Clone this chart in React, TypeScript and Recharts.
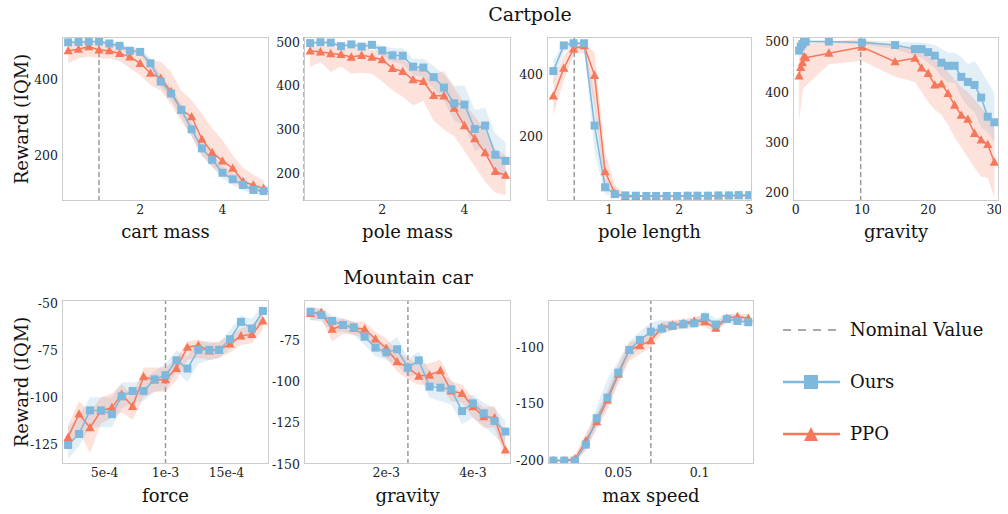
import React from "react";
import { ComposedChart, Line, Area, XAxis, YAxis, ReferenceLine } from "recharts";

const BLUE = "#7eb8dc";
const RED = "#f6775a";
const FONT = "DejaVu Serif";
const YW = 50;
const TOP_PAD = 10;

type Triple = [number, number, number]; // [iqm, low, high]

// Cartpole: cart mass
const cartMassX = [0.25, 0.5, 0.75, 1.0, 1.25, 1.5, 1.75, 2.0, 2.25, 2.5, 2.75, 3.0, 3.25, 3.5, 3.75, 4.0, 4.25, 4.5, 4.75, 5.0];
const cartMassOurs: Triple[] = [
  [497, 493, 501], [498, 495, 501], [499, 496, 501], [499, 496, 501], [494, 489, 499],
  [488, 482, 494], [475, 468, 483], [472, 463, 480], [442, 430, 455], [394, 380, 410],
  [363, 345, 378], [320, 300, 336], [269, 250, 287], [219, 200, 236], [189, 170, 206],
  [155, 140, 172], [138, 122, 153], [123, 108, 138], [110, 100, 122], [107, 97, 115],
];
const cartMassPpo: Triple[] = [
  [475, 442, 495], [479, 455, 497], [486, 460, 498], [477, 455, 497], [475, 455, 495],
  [468, 448, 490], [459, 430, 485], [442, 410, 475], [416, 385, 450], [403, 370, 447],
  [368, 335, 420], [320, 290, 370], [302, 250, 345], [243, 200, 310], [208, 170, 272],
  [186, 150, 240], [167, 135, 200], [132, 115, 168], [123, 108, 150], [114, 100, 135],
];

// Cartpole: pole mass
const poleMassX = [0.25, 0.5, 0.75, 1.0, 1.25, 1.5, 1.75, 2.0, 2.25, 2.5, 2.75, 3.0, 3.25, 3.5, 3.75, 4.0, 4.25, 4.5, 4.75, 5.0];
const poleMassOurs: Triple[] = [
  [498, 494, 502], [500, 496, 503], [499, 495, 503], [491, 486, 497], [495, 490, 500],
  [490, 484, 497], [494, 487, 500], [481, 470, 492], [470, 456, 486], [469, 450, 486],
  [444, 425, 462], [442, 420, 462], [420, 395, 446], [396, 365, 426], [360, 320, 400],
  [357, 310, 400], [301, 250, 345], [309, 260, 350], [242, 200, 290], [228, 185, 270],
];
const poleMassPpo: Triple[] = [
  [480, 443, 490], [478, 455, 490], [474, 432, 490], [472, 445, 487], [466, 428, 485],
  [470, 430, 488], [466, 428, 482], [460, 410, 478], [440, 390, 465], [433, 375, 460],
  [414, 355, 445], [410, 365, 440], [378, 320, 425], [377, 300, 435], [349, 285, 395],
  [309, 250, 360], [279, 215, 330], [247, 180, 300], [204, 155, 255], [195, 150, 240],
];

// Cartpole: pole length
const poleLengthX = [0.2, 0.35, 0.49, 0.64, 0.79, 0.94, 1.08, 1.23, 1.38, 1.53, 1.67, 1.82, 1.97, 2.12, 2.26, 2.41, 2.56, 2.71, 2.85, 3.0];
const poleLengthOurs: Triple[] = [
  [411, 372, 445], [493, 470, 505], [500, 495, 503], [500, 492, 503], [236, 150, 330],
  [38, 15, 70], [16, 9, 24], [12, 8, 16], [11, 8, 14], [10, 8, 13],
  [10, 8, 13], [10, 8, 13], [10, 8, 13], [11, 9, 14], [11, 9, 14],
  [11, 9, 14], [12, 10, 15], [12, 10, 15], [13, 10, 16], [13, 10, 16],
];
const poleLengthPpo: Triple[] = [
  [331, 270, 380], [420, 380, 460], [482, 465, 500], [492, 470, 500], [397, 300, 470],
  [88, 40, 150], [19, 8, 45], [8, 3, 16], [9, 6, 13], [9, 6, 12],
  [9, 6, 12], [9, 6, 12], [9, 6, 12], [10, 7, 13], [10, 7, 13],
  [10, 7, 13], [10, 7, 13], [11, 8, 14], [11, 8, 14], [11, 8, 14],
];

// Cartpole: gravity
const cpGravityX = [0.5, 0.75, 1.0, 1.25, 1.5, 5, 10, 15, 18, 19, 20, 21, 22, 23, 24, 25, 26, 27, 28, 29, 30];
const cpGravityOurs: Triple[] = [
  [482, 470, 495], [490, 480, 498], [495, 490, 500], [499, 496, 501], [500, 497, 501],
  [500, 497, 501], [498, 494, 501], [493, 485, 500], [485, 472, 498], [485, 468, 498],
  [479, 458, 496], [472, 448, 493], [458, 430, 486], [452, 420, 478], [452, 418, 478],
  [430, 390, 470], [420, 372, 455], [414, 360, 462], [389, 330, 442], [351, 320, 420],
  [340, 300, 398],
];
const cpGravityPpo: Triple[] = [
  [432, 340, 480], [449, 370, 485], [458, 400, 490], [470, 410, 495], [468, 412, 495],
  [477, 455, 500], [489, 462, 505], [460, 430, 490], [467, 420, 490], [448, 400, 482],
  [437, 380, 470], [414, 365, 462], [416, 355, 455], [397, 335, 440], [374, 310, 425],
  [354, 290, 410], [346, 270, 400], [318, 250, 385], [305, 232, 370], [296, 230, 355],
  [261, 190, 330],
];

// Mountain car: force (units of 1e-4)
const forceX = [2.0, 2.9, 3.8, 4.7, 5.6, 6.4, 7.3, 8.2, 9.1, 10.0, 10.9, 11.8, 12.7, 13.6, 14.4, 15.3, 16.2, 17.1, 18.0];
const forceOurs: Triple[] = [
  [-125.5, -133, -116], [-119.6, -126, -110], [-107, -116, -100], [-107, -116, -100], [-109, -116, -100],
  [-99.5, -106, -92], [-96.6, -103, -92], [-96.6, -102, -91], [-90.4, -97, -86], [-88.2, -96, -82],
  [-80.2, -86, -75], [-84.6, -92, -78], [-74.6, -82, -70], [-74.6, -80, -70], [-74.6, -79, -71],
  [-68.9, -74, -64], [-59.6, -67, -56], [-63.2, -69, -58], [-53.8, -58, -50],
];
const forcePpo: Triple[] = [
  [-121.4, -128, -115], [-108.9, -118, -102], [-116.3, -130, -108], [-107.3, -114, -100], [-105.5, -111, -98],
  [-98.4, -108, -93], [-104.8, -112, -99], [-88.9, -100, -84], [-90.7, -97, -84], [-90.5, -97, -84],
  [-84.5, -91, -79], [-73.2, -80, -70], [-72.1, -79, -69], [-75.2, -80, -71], [-74.6, -79, -70],
  [-71.4, -76, -67], [-67.1, -72, -63], [-66.3, -71, -61], [-59.1, -64, -55],
];

// Mountain car: gravity (units of 1e-3)
const mcGravityX = [0.25, 0.5, 0.75, 1.0, 1.25, 1.5, 1.75, 2.0, 2.25, 2.5, 2.75, 3.0, 3.25, 3.5, 3.75, 4.0, 4.25, 4.5, 4.75];
const mcGravityOurs: Triple[] = [
  [-57.9, -63, -55], [-59.9, -64, -56], [-63.5, -70, -60], [-65.9, -70, -62], [-67.3, -72, -64],
  [-73, -78, -69], [-79.6, -85, -74], [-82.5, -87, -78], [-80.6, -90, -73], [-91.7, -97, -86],
  [-87.3, -96, -82], [-103.2, -110, -94], [-103.8, -112, -96], [-104.8, -114, -99], [-118, -126, -110],
  [-113.3, -122, -108], [-119.4, -127, -113], [-124, -133, -116], [-130.4, -140, -124],
];
const mcGravityPpo: Triple[] = [
  [-58.9, -63, -56], [-58.3, -62, -56], [-68.5, -76, -63], [-65.9, -71, -62], [-67.9, -72, -64],
  [-68.3, -74, -64], [-74.4, -80, -70], [-80, -86, -74], [-88.1, -94, -82], [-91.7, -99, -86],
  [-96.8, -102, -90], [-96.2, -102, -89], [-93.5, -102, -87], [-105.8, -112, -100], [-107.3, -113, -102],
  [-115.3, -122, -110], [-121.4, -128, -116], [-122, -128, -115], [-141.5, -147, -133],
];

// Mountain car: max speed
const maxSpeedX = [0.01, 0.0167, 0.0233, 0.03, 0.0367, 0.0433, 0.05, 0.0567, 0.0633, 0.07, 0.0767, 0.0833, 0.09, 0.0967, 0.1033, 0.11, 0.1167, 0.1233, 0.13];
const maxSpeedOurs: Triple[] = [
  [-200, -201, -199], [-200, -201, -199], [-200, -201, -198], [-185.9, -192, -180], [-162.6, -170, -152],
  [-144.4, -152, -128], [-122.4, -130, -112], [-102.4, -110, -95], [-93.5, -100, -86], [-86.2, -92, -78],
  [-83.5, -88, -76], [-81.2, -85, -77], [-79.7, -84, -76], [-78.8, -83, -75], [-73.5, -80, -68],
  [-80, -84, -75], [-75, -79, -71], [-76.8, -80, -72], [-77.9, -82, -74],
];
const maxSpeedPpo: Triple[] = [
  [-200, -201, -199], [-200, -201, -199], [-198.5, -201, -195], [-182.6, -190, -176], [-165.6, -172, -158],
  [-146.5, -155, -138], [-123.8, -132, -115], [-102.4, -112, -96], [-98.5, -106, -92], [-94.1, -100, -88],
  [-82.6, -88, -78], [-80.3, -85, -76], [-78.8, -83, -75], [-76.8, -81, -73], [-77.4, -82, -73],
  [-83.2, -87, -78], [-74.4, -78, -71], [-72.9, -76, -70], [-74.4, -79, -71],
];

const forceTickLabel: Record<number, string> = { 5: "5e-4", 10: "1e-3", 15: "15e-4" };
const mcGravityTickLabel: Record<number, string> = { 2: "2e-3", 4: "4e-3" };

const Square = (props: any) => {
  const { cx, cy, index } = props;
  if (cx == null || cy == null) return null;
  return <rect key={`sq-${index}`} x={cx - 4} y={cy - 4} width={8} height={8} fill={BLUE} />;
};

const Triangle = (props: any) => {
  const { cx, cy, index } = props;
  if (cx == null || cy == null) return null;
  return (
    <polygon
      key={`tr-${index}`}
      points={`${cx},${cy - 4.8} ${cx - 4.6},${cy + 3.6} ${cx + 4.6},${cy + 3.6}`}
      fill={RED}
    />
  );
};

const makeXTick = (fmt?: (v: number) => string) => (props: any) => {
  const { x, y, payload } = props;
  const v = payload.value as number;
  return (
    <text x={x} y={y} dy="0.75em" textAnchor="middle" fontFamily={FONT} fontSize={12.5} fill="#222">
      {fmt ? fmt(v) : String(v)}
    </text>
  );
};

const YTick = (props: any) => {
  const { x, y, payload } = props;
  return (
    <text x={x} y={y} dy="0.36em" textAnchor="end" fontFamily={FONT} fontSize={12.5} fill="#222">
      {String(payload.value)}
    </text>
  );
};

interface PanelProps {
  left: number;
  top: number;
  width: number;
  height: number;
  xs: number[];
  ours: Triple[];
  ppo: Triple[];
  xDomain: [number, number];
  yDomain: [number, number];
  xTicks: number[];
  yTicks: number[];
  xFormat?: (v: number) => string;
  nominal: number;
}

function Panel(p: PanelProps) {
  const data = p.xs.map((x, i) => ({
    x,
    ours: p.ours[i][0],
    oursBand: [p.ours[i][1], p.ours[i][2]],
    ppo: p.ppo[i][0],
    ppoBand: [p.ppo[i][1], p.ppo[i][2]],
  }));
  return (
    <div style={{ position: "absolute", left: p.left - YW, top: p.top - TOP_PAD }}>
      <ComposedChart
        width={YW + p.width + 2}
        height={TOP_PAD + p.height + 25}
        data={data}
        margin={{ top: TOP_PAD, right: 2, bottom: 0, left: 0 }}
      >
        <XAxis
          dataKey="x"
          type="number"
          domain={p.xDomain}
          ticks={p.xTicks}
          allowDataOverflow
          axisLine={false}
          tickLine={false}
          tickSize={0}
          tickMargin={4}
          height={25}
          tick={makeXTick(p.xFormat)}
          interval={0}
        />
        <YAxis
          type="number"
          domain={p.yDomain}
          ticks={p.yTicks}
          allowDataOverflow
          axisLine={false}
          tickLine={false}
          tickSize={0}
          tickMargin={4}
          width={YW}
          tick={<YTick />}
          interval={0}
        />
        <ReferenceLine x={p.nominal} stroke="#9a9a9a" strokeWidth={1.5} strokeDasharray="5 3" />
        <Area
          type="linear"
          dataKey="oursBand"
          stroke="none"
          fill={BLUE}
          fillOpacity={0.22}
          isAnimationActive={false}
          activeDot={false}
        />
        <Area
          type="linear"
          dataKey="ppoBand"
          stroke="none"
          fill={RED}
          fillOpacity={0.22}
          isAnimationActive={false}
          activeDot={false}
        />
        <Line
          type="linear"
          dataKey="ppo"
          stroke={RED}
          strokeWidth={1.5}
          dot={<Triangle />}
          activeDot={false}
          isAnimationActive={false}
        />
        <Line
          type="linear"
          dataKey="ours"
          stroke={BLUE}
          strokeWidth={1.5}
          dot={<Square />}
          activeDot={false}
          isAnimationActive={false}
        />
      </ComposedChart>
    </div>
  );
}

const frames = [
  { left: 62, top: 37, width: 207, height: 164 },
  { left: 304, top: 37, width: 207, height: 164 },
  { left: 547, top: 37, width: 205, height: 164 },
  { left: 793, top: 37, width: 206, height: 164 },
  { left: 62, top: 300, width: 207, height: 164 },
  { left: 304, top: 300, width: 207, height: 164 },
  { left: 548, top: 300, width: 206, height: 164 },
];

const xLabels = ["cart mass", "pole mass", "pole length", "gravity", "force", "gravity", "max speed"];

export default function App() {
  return (
    <div style={{ position: "absolute", left: 0, top: 0, width: 1008, height: 514, background: "#fff", overflow: "hidden" }}>
      <Panel {...frames[0]} xs={cartMassX} ours={cartMassOurs} ppo={cartMassPpo}
        xDomain={[0.1, 5.13]} yDomain={[81, 511]} xTicks={[2, 4]} yTicks={[200, 400]}
        nominal={1.0} />
      <Panel {...frames[1]} xs={poleMassX} ours={poleMassOurs} ppo={poleMassPpo}
        xDomain={[0.1, 5.13]} yDomain={[136, 512]} xTicks={[2, 4]} yTicks={[200, 300, 400, 500]}
        nominal={0.1} />
      <Panel {...frames[2]} xs={poleLengthX} ours={poleLengthOurs} ppo={poleLengthPpo}
        xDomain={[0.11, 3.04]} yDomain={[-6, 520]} xTicks={[1, 2, 3]} yTicks={[200, 400]}
        nominal={0.5} />
      <Panel {...frames[3]} xs={cpGravityX} ours={cpGravityOurs} ppo={cpGravityPpo}
        xDomain={[-0.42, 30.7]} yDomain={[184, 509]} xTicks={[0, 10, 20, 30]} yTicks={[200, 300, 400, 500]}
        nominal={9.8} />
      <Panel {...frames[4]} xs={forceX} ours={forceOurs} ppo={forcePpo}
        xDomain={[1.5, 18.5]} yDomain={[-135.7, -47.9]} xTicks={[5, 10, 15]} yTicks={[-125, -100, -75, -50]}
        xFormat={(v) => forceTickLabel[v] ?? String(v)}
        nominal={10} />
      <Panel {...frames[5]} xs={mcGravityX} ours={mcGravityOurs} ppo={mcGravityPpo}
        xDomain={[0.1, 4.88]} yDomain={[-150, -50.8]} xTicks={[2, 4]} yTicks={[-150, -125, -100, -75]}
        xFormat={(v) => mcGravityTickLabel[v] ?? String(v)}
        nominal={2.5} />
      <Panel {...frames[6]} xs={maxSpeedX} ours={maxSpeedOurs} ppo={maxSpeedPpo}
        xDomain={[0.0067, 0.1335]} yDomain={[-203, -58.3]} xTicks={[0.05, 0.1]} yTicks={[-200, -150, -100]}
        nominal={0.07} />

      <svg width={1008} height={514} style={{ position: "absolute", left: 0, top: 0, pointerEvents: "none" }}
        fontFamily={FONT}>
        {frames.map((f, i) => (
          <rect key={i} x={f.left + 0.5} y={f.top + 0.5} width={f.width - 1} height={f.height - 1}
            fill="none" stroke="#cccccc" strokeWidth={1} />
        ))}
        {frames.map((f, i) => (
          <text key={`xl-${i}`} x={f.left + f.width / 2} y={f.top + f.height + (f.top < 100 ? 37 : 38)}
            textAnchor="middle" fontSize={18} fill="#111">{xLabels[i]}</text>
        ))}
        <text x={530} y={21} textAnchor="middle" fontSize={19} fill="#111">Cartpole</text>
        <text x={408} y={284} textAnchor="middle" fontSize={19} fill="#111">Mountain car</text>
        <text transform="translate(28,119) rotate(-90)" textAnchor="middle" fontSize={18} fill="#111">Reward (IQM)</text>
        <text transform="translate(28,382) rotate(-90)" textAnchor="middle" fontSize={18} fill="#111">Reward (IQM)</text>

        <line x1={783} y1={330} x2={839} y2={330} stroke="#a8a8a8" strokeWidth={2} strokeDasharray="8 7" />
        <text x={850} y={336} fontSize={18} fill="#111">Nominal Value</text>
        <line x1={783} y1={382} x2={840} y2={382} stroke={BLUE} strokeWidth={2.5} />
        <rect x={804} y={375} width={14} height={14} fill={BLUE} />
        <text x={850} y={388} fontSize={18} fill="#111">Ours</text>
        <line x1={783} y1={434} x2={840} y2={434} stroke={RED} strokeWidth={2.5} />
        <polygon points="811,427 804,441 818,441" fill={RED} />
        <text x={850} y={440} fontSize={18} fill="#111">PPO</text>
      </svg>
    </div>
  );
}
